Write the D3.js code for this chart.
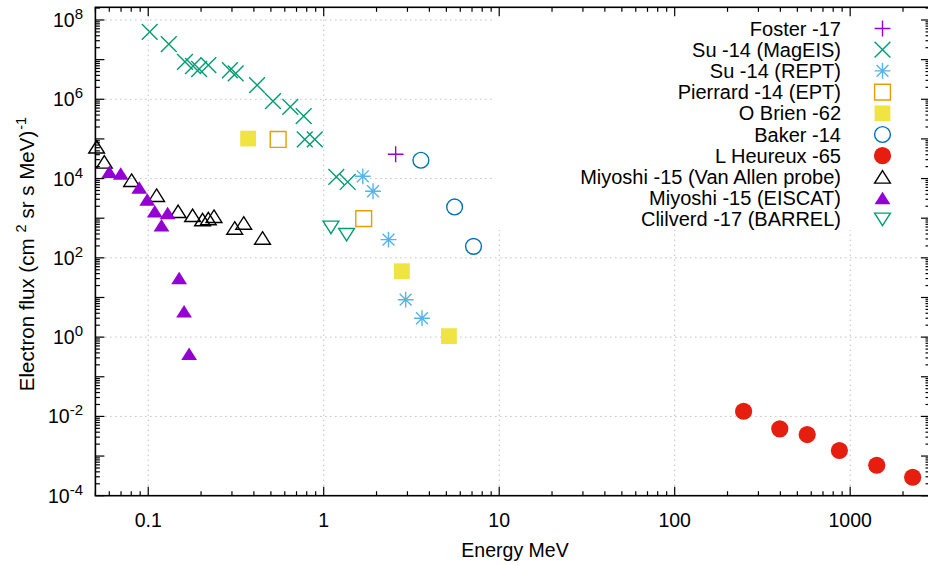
<!DOCTYPE html>
<html><head><meta charset="utf-8">
<script src="https://cdn.jsdelivr.net/npm/d3@7"></script>
<style>body{margin:0;background:#fff} svg{display:block}</style>
</head><body>
<svg id="c" width="928" height="565"></svg>
<script>
// ---------------- data (Energy MeV, Electron flux) ----------------
const fosterE = [2.57];
const fosterF = [4.1e4];
const magEISE = [0.102, 0.131, 0.162, 0.180, 0.195, 0.220, 0.292, 0.315, 0.417, 0.514, 0.645, 0.769, 0.780, 0.889, 1.18, 1.37];
const magEISF = [5.0e7, 2.46e7, 8.8e6, 6.9e6, 5.8e6, 7.3e6, 5.4e6, 4.5e6, 2.27e6, 8.95e5, 6.4e5, 3.74e5, 9.7e4, 9.7e4, 1.1e4, 8.2e3];
const reptE = [1.67, 1.91, 2.34, 2.93, 3.63];
const reptF = [1.14e4, 4.78e3, 288, 8.8, 3.0];
const pierrardE = [0.55, 1.69];
const pierrardF = [9.7e4, 977];
const obrienE = [0.371, 2.79, 5.17];
const obrienF = [1.02e5, 46, 1.06];
const bakerE = [3.58, 5.57, 7.14];
const bakerF = [2.9e4, 1.92e3, 195];
const lheureuxE = [247, 397, 569, 868, 1417, 2270];
const lheureuxF = [0.0135, 0.00486, 0.00349, 0.00138, 0.000586, 0.000292];
const vanAllenE = [0.0508, 0.0562, 0.0804, 0.1116, 0.148, 0.179, 0.204, 0.220, 0.237, 0.311, 0.350, 0.448];
const vanAllenF = [6.3e4, 2.63e4, 9.06e3, 3.79e3, 1.49e3, 1.18e3, 922, 977, 1.12e3, 566, 757, 316];
const eiscatE = [0.060, 0.0697, 0.0889, 0.0987, 0.109, 0.129, 0.119, 0.150, 0.160, 0.171];
const eiscatF = [1.47e4, 1.34e4, 5.9e3, 2.95e3, 1.49e3, 1.35e3, 662, 30.9, 4.46, 0.381];
const clilverdE = [1.10, 1.35];
const clilverdF = [589, 385];

const seriesNames = ["Foster -17", "Su -14 (MagEIS)", "Su -14 (REPT)", "Pierrard -14 (EPT)", "O Brien -62",
  "Baker -14", "L Heureux -65", "Miyoshi -15 (Van Allen probe)", "Miyoshi -15 (EISCAT)", "Clilverd -17 (BARREL)"];
const xTickLabels = ["0.1", "1", "10", "100", "1000"];
const xTickValues = [0.1, 1, 10, 100, 1000];
const yTickExponents = [-4, -2, 0, 2, 4, 6, 8];

// ---------------- layout ----------------
const X0 = 95.4, X1 = 930, Y0 = 495.7, Y1 = 7.3;
const x = d3.scaleLog().domain([0.05, 2850]).range([X0, X1]);
const y = d3.scaleLog().domain([1e-4, Math.pow(10, 8.32)]).range([Y0, Y1]);
const svg = d3.select("#c");
const FONT = "Liberation Sans, Arial, Helvetica, sans-serif";

// marker shapes
const S = 7.9;
const shapes = {
  plus: `M${-S},0H${S}M0,${-S}V${S}`,
  cross: `M${-S},${-S}L${S},${S}M${-S},${S}L${S},${-S}`,
  star: `M${-S},0H${S}M0,${-S}V${S}M${-S*0.75},${-S*0.75}L${S*0.75},${S*0.75}M${-S*0.75},${S*0.75}L${S*0.75},${-S*0.75}`,
  square: `M${-S},${-S}H${S}V${S}H${-S}Z`,
  circle: d3.symbol(d3.symbolCircle, Math.PI*S*S)(),
  circleF: d3.symbol(d3.symbolCircle, Math.PI*8.6*8.6)(),
  triUp: `M0,-6.3L7.9,6.2L-7.9,6.2Z`,
  triDown: `M0,6.3L7.9,-6.2L-7.9,-6.2Z`
};

const series = [
  {name: seriesNames[0], E: fosterE, F: fosterF, shape: "plus", color: "#9400d3", fill: false},
  {name: seriesNames[1], E: magEISE, F: magEISF, shape: "cross", color: "#009e73", fill: false},
  {name: seriesNames[2], E: reptE, F: reptF, shape: "star", color: "#56b4e9", fill: false},
  {name: seriesNames[3], E: pierrardE, F: pierrardF, shape: "square", color: "#e69f00", fill: false},
  {name: seriesNames[4], E: obrienE, F: obrienF, shape: "square", color: "#f0e442", fill: true},
  {name: seriesNames[5], E: bakerE, F: bakerF, shape: "circle", color: "#0072b2", fill: false},
  {name: seriesNames[6], E: lheureuxE, F: lheureuxF, shape: "circleF", color: "#e51e10", fill: true},
  {name: seriesNames[7], E: vanAllenE, F: vanAllenF, shape: "triUp", color: "#000000", fill: false},
  {name: seriesNames[8], E: eiscatE, F: eiscatF, shape: "triUp", color: "#9400d3", fill: true},
  {name: seriesNames[9], E: clilverdE, F: clilverdF, shape: "triDown", color: "#009e73", fill: false}
];

// ---------------- grid ----------------
const grid = svg.append("g").attr("stroke", "#a0a0a0").attr("stroke-width", 1).attr("stroke-dasharray", "1,4");
xTickValues.forEach(v => grid.append("line").attr("x1", x(v)).attr("x2", x(v)).attr("y1", Y0).attr("y2", Y1));
yTickExponents.filter(e => e > -4).forEach(e => grid.append("line").attr("x1", X0).attr("x2", X1).attr("y1", y(Math.pow(10, e))).attr("y2", y(Math.pow(10, e))));

// key background masks the grid
const keyLeft = 493, keyBottom = 229;
svg.append("rect").attr("x", keyLeft).attr("y", Y1 + 1).attr("width", X1 - keyLeft).attr("height", keyBottom - Y1).attr("fill", "#fff");

// ---------------- ticks ----------------
const ticks = svg.append("g").attr("stroke", "#000").attr("stroke-width", 1.2);
for (let d = -2; d <= 3; d++) {
  for (let m = 1; m <= 9; m++) {
    const v = m * Math.pow(10, d);
    if (v < 0.05 - 1e-9 || v > 2850) continue;
    const len = m === 1 ? 9 : 4.5;
    ticks.append("line").attr("x1", x(v)).attr("x2", x(v)).attr("y1", Y0).attr("y2", Y0 - len);
    ticks.append("line").attr("x1", x(v)).attr("x2", x(v)).attr("y1", Y1).attr("y2", Y1 + len);
  }
}
for (let d = -4; d <= 8; d++) {
  for (let m = 1; m <= 9; m++) {
    const v = m * Math.pow(10, d);
    if (v > Math.pow(10, 8.32)) continue;
    const len = m === 1 ? 9 : 4.5;
    ticks.append("line").attr("x1", X0).attr("x2", X0 + len).attr("y1", y(v)).attr("y2", y(v));
    ticks.append("line").attr("x1", X1).attr("x2", X1 - len).attr("y1", y(v)).attr("y2", y(v));
  }
}

// border
svg.append("rect").attr("x", X0).attr("y", Y1).attr("width", X1 - X0).attr("height", Y0 - Y1)
  .attr("fill", "none").attr("stroke", "#000").attr("stroke-width", 1.6);

// ---------------- tick labels ----------------
xTickValues.forEach((v, i) => {
  svg.append("text").attr("x", x(v)).attr("y", 526.5).attr("text-anchor", "middle")
    .attr("font-family", FONT).attr("font-size", 19.5).text(xTickLabels[i]);
});
yTickExponents.forEach(e => {
  const t = svg.append("text").attr("x", 83).attr("y", y(Math.pow(10, e)) + 7).attr("text-anchor", "end")
    .attr("font-family", FONT).attr("font-size", 19.5);
  t.append("tspan").text("10");
  t.append("tspan").attr("dy", -8).attr("font-size", 15).text(String(e));
});

// axis titles
svg.append("text").attr("x", 515).attr("y", 557).attr("text-anchor", "middle")
  .attr("font-family", FONT).attr("font-size", 19.5).text("Energy MeV");
const yl = svg.append("text").attr("transform", "translate(34,254) rotate(-90)").attr("text-anchor", "middle")
  .attr("font-family", FONT).attr("font-size", 20.5);
yl.append("tspan").text("Electron flux (cm");
yl.append("tspan").attr("dy", -8).attr("dx", 6).attr("font-size", 14.5).text("2");
yl.append("tspan").attr("dy", 8).attr("dx", 6).text("sr s MeV)");
yl.append("tspan").attr("dy", -8).attr("dx", 1).attr("font-size", 14.5).text("-1");

// ---------------- data points ----------------
series.forEach(s => {
  const g = svg.append("g");
  s.E.forEach((e, i) => {
    g.append("path").attr("d", shapes[s.shape])
      .attr("transform", `translate(${x(e)},${y(s.F[i])})`)
      .attr("fill", s.fill ? s.color : "none")
      .attr("stroke", s.fill ? "none" : s.color)
      .attr("stroke-width", 1.4);
  });
});

// ---------------- legend ----------------
const legTextX = 841, legMarkX = 882.5, legY0 = 28.5, legStep = 21.2;
series.forEach((s, i) => {
  const cy = legY0 + i * legStep;
  svg.append("text").attr("x", legTextX).attr("y", cy + 7).attr("text-anchor", "end")
    .attr("font-family", FONT).attr("font-size", 20).text(s.name);
  svg.append("path").attr("d", shapes[s.shape]).attr("transform", `translate(${legMarkX},${cy})`)
    .attr("fill", s.fill ? s.color : "none").attr("stroke", s.fill ? "none" : s.color).attr("stroke-width", 1.4);
});
</script>
</body></html>
